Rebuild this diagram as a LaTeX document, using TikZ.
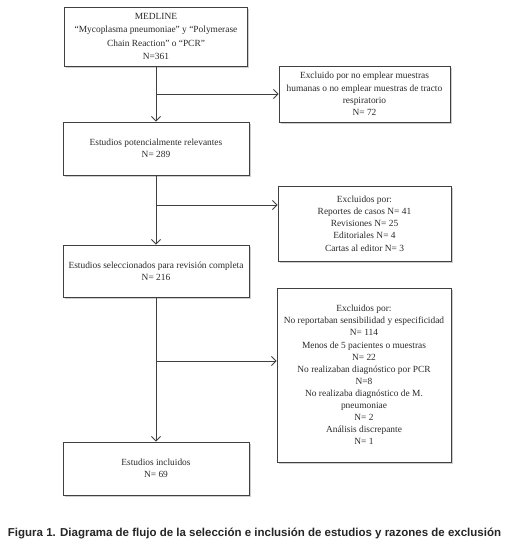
\documentclass[tikz,border=0pt]{standalone}
\usepackage{fontspec}
\setmainfont{Liberation Serif}
\newfontfamily\capfont{Liberation Sans}
\usetikzlibrary{arrows.meta,shadows}
\definecolor{ln}{HTML}{404040}
\definecolor{tx}{HTML}{2A2A2A}
\begin{document}
\begin{tikzpicture}[x=1pt,y=-1pt,
  box/.style={draw=ln, line width=0.9pt, fill=white, align=center, text=tx,
    inner sep=0pt,
    font=\fontsize{9.4}{12.2}\selectfont,
    drop shadow={shadow xshift=1.8pt, shadow yshift=-2.2pt, fill=black!35, opacity=0.55}},
  conn/.style={draw=ln, line width=0.9pt},
  arr/.style={conn, -{Straight Barb[length=4.5pt,width=9pt,line width=0.8pt]}}]
\useasboundingbox (0,0) rectangle (508,546);
\fill[white] (0,0) rectangle (508,546);

\node[box, minimum width=183pt, minimum height=59pt,
  font=\fontsize{9.4}{13.3}\selectfont] (b1) at (156,36.5)
  {MEDLINE\\“Mycoplasma pneumoniae” y “Polymerase\\Chain Reaction” o “PCR”\\N=361};
\node[box, minimum width=171pt, minimum height=56pt] (b2) at (364.5,94)
  {Excluido por no emplear muestras\\humanas o no emplear muestras de tracto\\respiratorio\\N= 72};
\node[box, minimum width=186pt, minimum height=53pt] (b3) at (156,148.5)
  {Estudios potencialmente relevantes\\N= 289};
\node[box, minimum width=173pt, minimum height=75pt] (b4) at (364.5,223.5)
  {Excluidos por:\\Reportes de casos N= 41\\Revisiones N= 25\\Editoriales N= 4\\Cartas al editor N= 3};
\node[box, minimum width=186pt, minimum height=52pt] (b5) at (156,271)
  {Estudios seleccionados para revisión completa\\N= 216};
\node[box, minimum width=174pt, minimum height=174pt,
  font=\fontsize{9.4}{12.1}\selectfont] (b6) at (364,375)
  {Excluidos por:\\No reportaban sensibilidad y especificidad\\N= 114\\Menos de 5 pacientes o muestras\\N= 22\\No realizaban diagnóstico por PCR\\N=8\\No realizaba diagnóstico de M.\\pneumoniae\\N= 2\\Análisis discrepante\\N= 1};
\node[box, minimum width=186pt, minimum height=53pt] (b7) at (156,468.5)
  {Estudios incluidos\\N= 69};

\coordinate (j1) at (156,94);
\coordinate (j2) at (156,205);
\coordinate (j3) at (156,361);

\draw[arr] (b1.south) -- (b3.north);
\draw[arr] (j1) -- (b2.west);
\draw[arr] (b3.south) -- (b5.north);
\draw[arr] (j2) -- (j2 -| b4.west);
\draw[arr] (b5.south) -- (b7.north);
\draw[arr] (j3) -- (j3 -| b6.west);

\node[font=\capfont\bfseries\fontsize{11.5}{13}\selectfont, text=black!85, inner sep=0pt] (cap) at (254.5,533)
  {Figura 1. Diagrama de flujo de la selección e inclusión de estudios y razones de exclusión};
\end{tikzpicture}
\end{document}
